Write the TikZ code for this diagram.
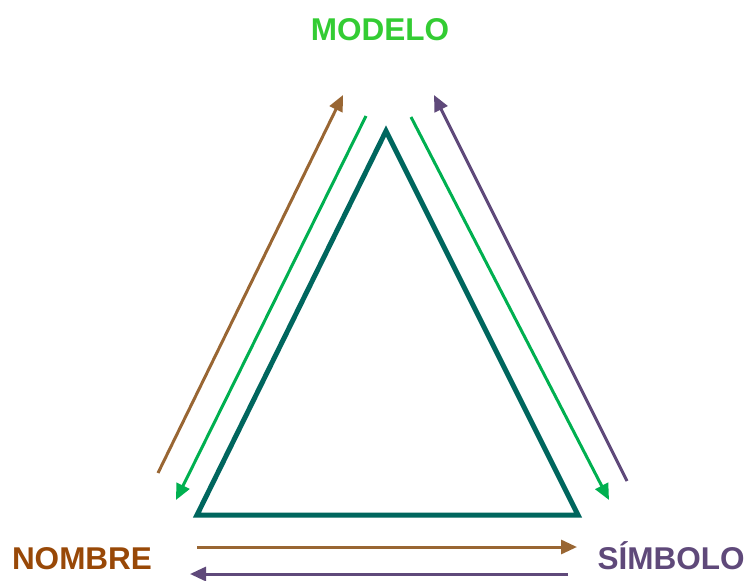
\documentclass[tikz,border=0pt]{standalone}
\usepackage{fontspec}
\setmainfont{Liberation Sans}
\usetikzlibrary{arrows.meta}
\definecolor{teal}{RGB}{0,102,94}
\definecolor{brownarr}{RGB}{153,102,51}
\definecolor{greenarr}{RGB}{0,176,80}
\definecolor{purplearr}{RGB}{95,73,122}
\definecolor{modelo}{RGB}{51,204,51}
\definecolor{nombre}{RGB}{152,72,7}
\tikzset{
  label/.style={font=\fontsize{31.5}{36}\selectfont\bfseries, inner sep=0pt, anchor=base},
  flow/.style={line width=3pt, -{Triangle[length=16pt,width=14pt]}}
}

\begin{document}
\begin{tikzpicture}[x=1pt, y=-1pt]
    \useasboundingbox (0,0) rectangle (748,581);
    % labels
    \node[label, text=modelo] (modelo) at (380,40) {MODELO};
    \node[label, text=nombre] (nombre) at (82,569) {NOMBRE};
    \node[label, text=purplearr] (simbolo) at (671,569) {SÍMBOLO};
    % triangle
    \coordinate (top) at (386,131);
    \coordinate (left) at (197,515);
    \coordinate (right) at (578,515);
    \draw[teal, line width=5pt, line join=miter] (top) -- (left) -- (right) -- cycle;
    % arrow ends
    \coordinate (b1) at (158,473);  \coordinate (b2) at (343,95);
    \coordinate (g1) at (366,116);  \coordinate (g2) at (176,500);
    \coordinate (g3) at (411,117);  \coordinate (g4) at (609,500);
    \coordinate (p1) at (627,481);  \coordinate (p2) at (434,95);
    \coordinate (n1) at (197,547);  \coordinate (n2) at (577,547);
    \coordinate (s1) at (568,574);  \coordinate (s2) at (190,574);
    % arrows
    \draw[flow, brownarr] (b1) -- (b2);
    \draw[flow, greenarr] (g1) -- (g2);
    \draw[flow, greenarr] (g3) -- (g4);
    \draw[flow, purplearr] (p1) -- (p2);
    \draw[flow, brownarr] (n1) -- (n2);
    \draw[flow, purplearr] (s1) -- (s2);
\end{tikzpicture}
\end{document}
